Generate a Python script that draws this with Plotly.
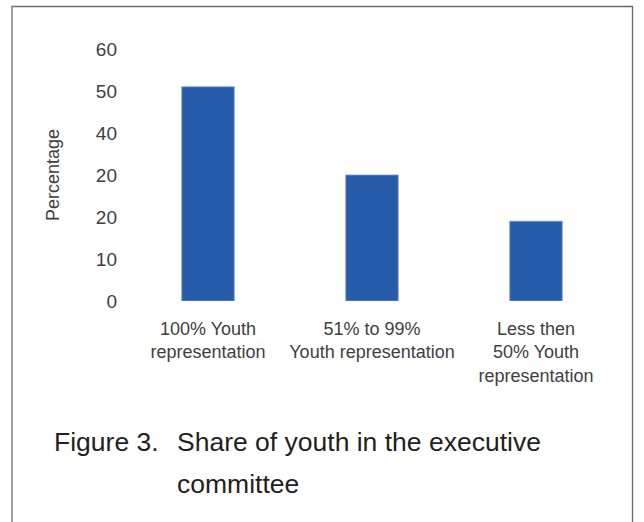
import plotly.graph_objects as go

categories = ["100% Youth<br>representation", "51% to 99%<br>Youth representation", "Less then<br>50% Youth<br>representation"]
values = [51, 30, 19]
tick_vals = [0, 10, 20, 30, 40, 50, 60]
tick_text = ["0", "10", "20", "20", "40", "50", "60"]
y_title = "Percentage"
caption_label = "Figure 3."
caption_lines = ["Share of youth in the executive", "committee"]

W, H = 644, 522
# plot area in page pixels: x 126..618, y 49..301
L = 126
R = W - 618
T = 49
B = H - 301
pw, ph = W - L - R, H - T - B

def px_x(x):
    return (x - L) / pw

def px_y(y):
    return (H - B - y) / ph

FONT = "Liberation Sans, Arial, Helvetica, sans-serif"

fig = go.Figure(go.Bar(
    x=categories, y=values,
    marker=dict(color="#265ca9", line=dict(color="#7d9bd0", width=0.8)),
    width=0.32,
))

fig.update_layout(
    width=W, height=H,
    margin=dict(l=L, r=R, t=T, b=B, autoexpand=False),
    paper_bgcolor="white", plot_bgcolor="white",
    showlegend=False,
    font=dict(family=FONT, size=18, color="#404040"),
    xaxis=dict(showgrid=False, showline=False, zeroline=False, ticks="",
               ticklabelstandoff=15,
               tickfont=dict(size=18, color="#404040"), fixedrange=True),
    yaxis=dict(range=[0, 60], tickvals=tick_vals, ticktext=tick_text,
               showgrid=False, showline=False, zeroline=False, ticks="",
               ticklabelstandoff=8, fixedrange=True,
               tickfont=dict(size=19, color="#404040"),
               title=dict(text=y_title, font=dict(size=18, color="#404040"), standoff=31)),
)

fig.add_shape(type="rect", xref="paper", yref="paper",
              x0=px_x(12), x1=px_x(632.5), y0=px_y(540), y1=px_y(6.5),
              line=dict(color="#6b6b6b", width=1.3), fillcolor="rgba(0,0,0,0)", layer="below")

cap_font = dict(size=26.5, color="#231f20")
fig.add_annotation(xref="paper", yref="paper", x=px_x(52), y=px_y(442),
                   xanchor="left", yanchor="middle", showarrow=False,
                   text=caption_label, font=cap_font)
fig.add_annotation(xref="paper", yref="paper", x=px_x(175), y=px_y(442),
                   xanchor="left", yanchor="middle", showarrow=False,
                   text=caption_lines[0], font=cap_font)
fig.add_annotation(xref="paper", yref="paper", x=px_x(175), y=px_y(484),
                   xanchor="left", yanchor="middle", showarrow=False,
                   text=caption_lines[1], font=cap_font)

fig.write_html("out.html", config={"displayModeBar": False},
               post_script="document.body.style.margin='0';document.body.style.overflow='hidden';")
